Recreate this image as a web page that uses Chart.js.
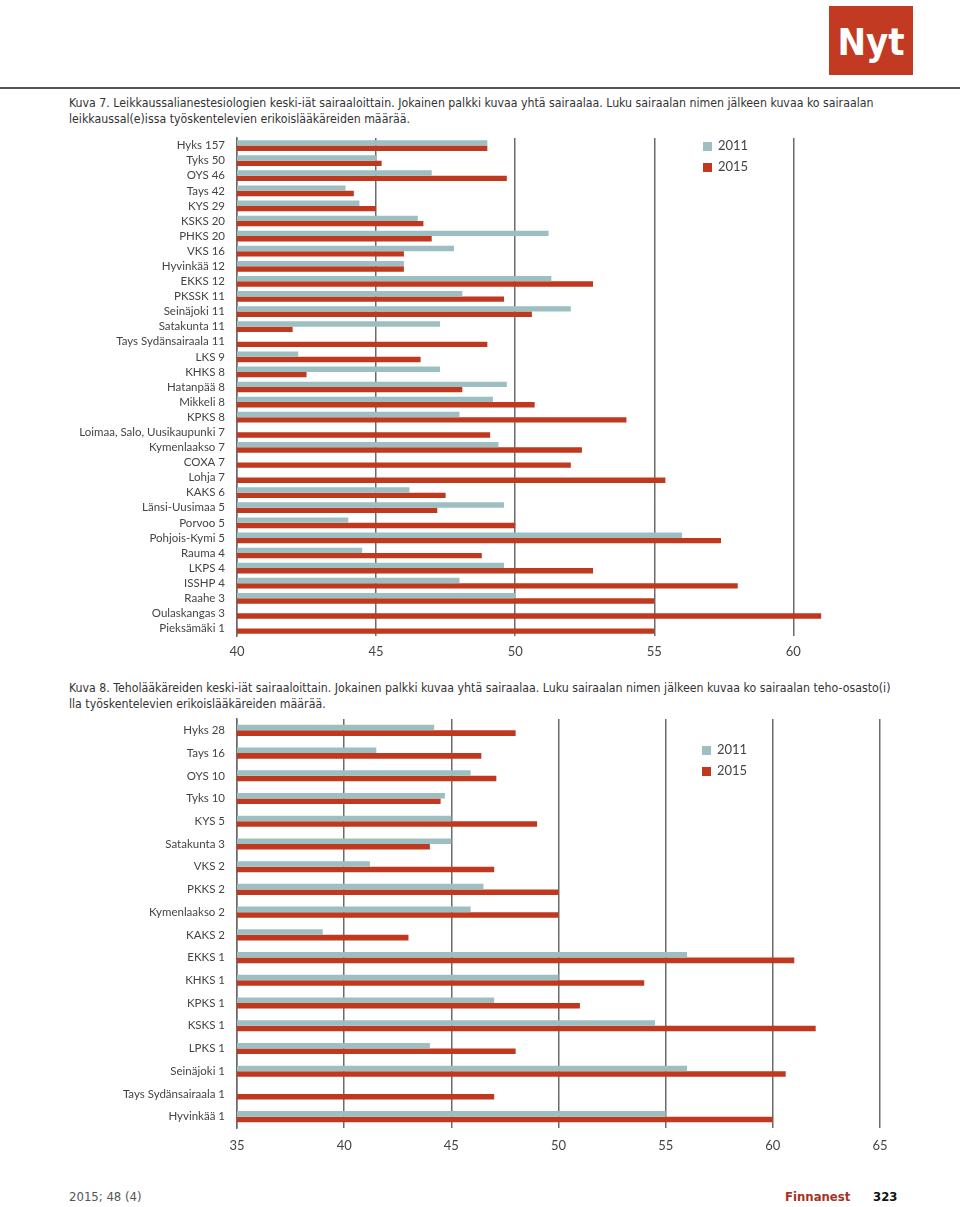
<!DOCTYPE html>
<html>
<head>
<meta charset="utf-8">
<script src="https://cdn.jsdelivr.net/npm/chart.js@4"></script>
<style>
  body { margin: 0; width: 960px; height: 1207px; background: #fff; position: relative; overflow: hidden; }
  .abs { position: absolute; }
  .logo { left: 829px; top: 6px; width: 84px; height: 69px; background: #c23a22; color: #fff;
    font: bold 38px "Liberation Sans Narrow", "DejaVu Sans Condensed", sans-serif; text-align: center; line-height: 72px; }
  .rule { left: 0; top: 87px; width: 960px; height: 2px; background: #555; }
  .cap { left: 69px; white-space: nowrap; font: 13px "DejaVu Sans Condensed", sans-serif; color: #333; line-height: 16px;
    transform: scaleX(0.942); transform-origin: left top; }
  .leg { font: 13px Lato, sans-serif; color: #444; }
  .leg span { display: inline-block; width: 9px; height: 9px; margin-right: 6px; vertical-align: -1px; }
  .foot { top: 1189px; font: 13px "DejaVu Sans Condensed", sans-serif; }
  canvas { position: absolute; left: 0; }
</style>
</head>
<body>
<div class="abs logo">Nyt</div>
<div class="abs rule"></div>
<div class="abs cap" style="top:95px">Kuva 7. Leikkaussalianestesiologien keski-iät sairaaloittain. Jokainen palkki kuvaa yhtä sairaalaa. Luku sairaalan nimen jälkeen kuvaa ko sairaalan<br>leikkaussal(e)issa työskentelevien erikoislääkäreiden määrää.</div>
<div class="abs cap" style="top:680px">Kuva 8. Teholääkäreiden keski-iät sairaaloittain. Jokainen palkki kuvaa yhtä sairaalaa. Luku sairaalan nimen jälkeen kuvaa ko sairaalan teho-osasto(i)<br>lla työskentelevien erikoislääkäreiden määrää.</div>

<canvas id="chart-1" width="960" height="536" style="top:130px"></canvas>
<canvas id="chart-2" width="960" height="446" style="top:712px"></canvas>

<div class="abs leg" style="left:703px; top:137px"><span style="background:#9dbfc1"></span>2011</div>
<div class="abs leg" style="left:703px; top:158px"><span style="background:#c0391f"></span>2015</div>
<div class="abs leg" style="left:702px; top:741px"><span style="background:#9dbfc1"></span>2011</div>
<div class="abs leg" style="left:702px; top:762px"><span style="background:#c0391f"></span>2015</div>

<div class="abs foot" style="left:69px; color:#555">2015; 48 (4)</div>
<div class="abs foot" style="left:785px; color:#a83225; font-weight:bold">Finnanest</div>
<div class="abs foot" style="left:873px; color:#111; font-weight:bold">323</div>

<script>
// Kuva 7 - leikkaussalianestesiologit
const sairaalat1 = ["Hyks 157", "Tyks 50", "OYS 46", "Tays 42", "KYS 29", "KSKS 20", "PHKS 20", "VKS 16",
  "Hyvinkää 12", "EKKS 12", "PKSSK 11", "Seinäjoki 11", "Satakunta 11", "Tays Sydänsairaala 11", "LKS 9",
  "KHKS 8", "Hatanpää 8", "Mikkeli 8", "KPKS 8", "Loimaa, Salo, Uusikaupunki 7", "Kymenlaakso 7", "COXA 7",
  "Lohja 7", "KAKS 6", "Länsi-Uusimaa 5", "Porvoo 5", "Pohjois-Kymi 5", "Rauma 4", "LKPS 4", "ISSHP 4",
  "Raahe 3", "Oulaskangas 3", "Pieksämäki 1"];
const ika2011_1 = [49.0, 45.0, 47.0, 43.9, 44.4, 46.5, 51.2, 47.8, 46.0, 51.3, 48.1, 52.0, 47.3, null, 42.2,
  47.3, 49.7, 49.2, 48.0, null, 49.4, null, null, 46.2, 49.6, 44.0, 56.0, 44.5, 49.6, 48.0, 50.0, null, null];
const ika2015_1 = [49.0, 45.2, 49.7, 44.2, 45.0, 46.7, 47.0, 46.0, 46.0, 52.8, 49.6, 50.6, 42.0, 49.0, 46.6,
  42.5, 48.1, 50.7, 54.0, 49.1, 52.4, 52.0, 55.4, 47.5, 47.2, 50.0, 57.4, 48.8, 52.8, 58.0, 55.0, 61.0, 55.0];

// Kuva 8 - teholääkärit
const sairaalat2 = ["Hyks 28", "Tays 16", "OYS 10", "Tyks 10", "KYS 5", "Satakunta 3", "VKS 2", "PKKS 2",
  "Kymenlaakso 2", "KAKS 2", "EKKS 1", "KHKS 1", "KPKS 1", "KSKS 1", "LPKS 1", "Seinäjoki 1",
  "Tays Sydänsairaala 1", "Hyvinkää 1"];
const ika2011_2 = [44.2, 41.5, 45.9, 44.7, 45.0, 45.0, 41.2, 46.5, 45.9, 39.0, 56.0, 50.0, 47.0, 54.5, 44.0, 56.0, null, 55.0];
const ika2015_2 = [48.0, 46.4, 47.1, 44.5, 49.0, 44.0, 47.0, 50.0, 50.0, 43.0, 61.0, 54.0, 51.0, 62.0, 48.0, 60.6, 47.0, 60.0];

const teal = "#9dbfc1";
const red = "#c0391f";

function barChart(chartId, labels, d2011, d2015, opt) {
  const ctx = document.querySelector("#chart-" + chartId).getContext("2d");
  return new Chart(ctx, {
    type: "bar",
    data: {
      labels: labels,
      datasets: [
        { label: "2011", data: d2011, backgroundColor: teal, categoryPercentage: opt.cat, barPercentage: 1 },
        { label: "2015", data: d2015, backgroundColor: red, categoryPercentage: opt.cat, barPercentage: 1 },
      ],
    },
    options: {
      indexAxis: "y",
      responsive: false,
      animation: false,
      layout: { padding: { top: opt.top, right: opt.right, left: 0, bottom: 0 } },
      plugins: { legend: { display: false }, tooltip: { enabled: false } },
      scales: {
        x: {
          min: opt.min,
          max: opt.max,
          afterFit: (scale) => { scale.height = 30; },
          ticks: { stepSize: 5, includeBounds: false, padding: opt.tickPad, color: "#444",
            font: { family: "Lato", size: 13 } },
          grid: { color: "#6b6b6b", lineWidth: 1.5, drawTicks: false },
          border: { display: false },
        },
        y: {
          afterFit: (scale) => {
            scale.width = 237;
            scale.paddingTop = 0;
            scale.paddingBottom = 0;
          },
          ticks: { autoSkip: false, padding: 4, color: "#444", font: { family: "Lato", size: 11.5 } },
          grid: { display: false },
          border: { display: true, color: "#6b6b6b", width: 1.5 },
        },
      },
    },
  });
}

barChart(1, sairaalat1, ika2011_1, ika2015_1, { min: 40, max: 62, right: 111, top: 8, cat: 0.71, tickPad: 8 });
barChart(2, sairaalat2, ika2011_2, ika2015_2, { min: 35, max: 65, right: 80, top: 7, cat: 0.49, tickPad: 10 });
</script>
</body>
</html>
